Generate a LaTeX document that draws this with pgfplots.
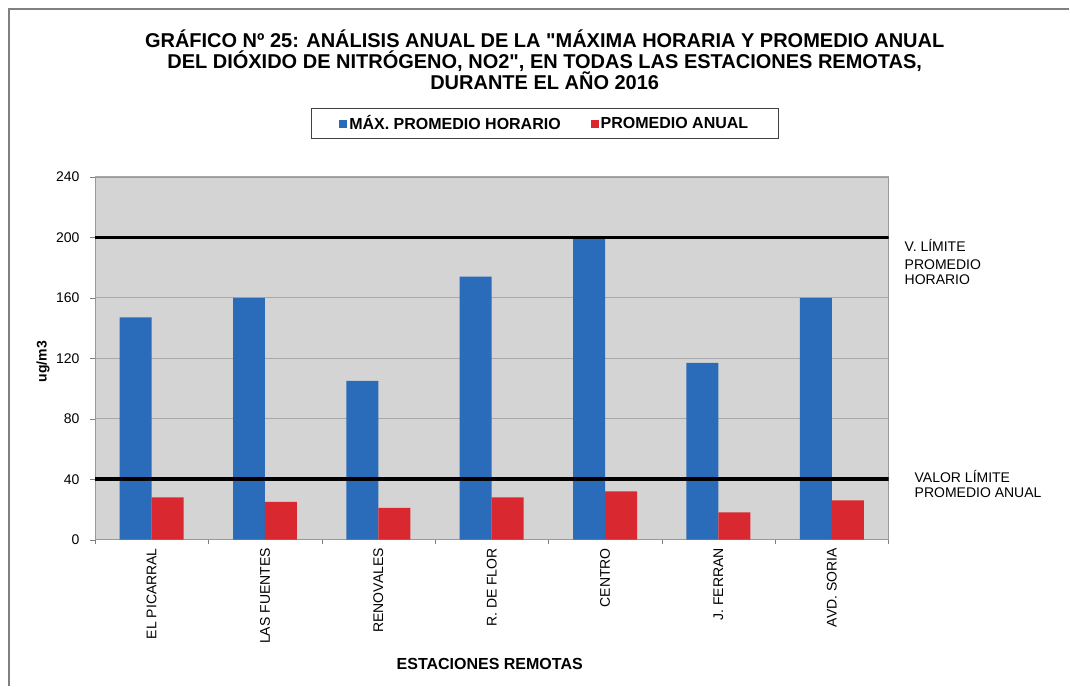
\documentclass[border=0pt]{standalone}
\usepackage{fontspec}
\setmainfont{Liberation Sans}
\newfontfamily\qfont{Liberation Sans}
\usepackage{pgfplots}
\pgfplotsset{compat=1.18}
\definecolor{barblue}{HTML}{2A6CB9}
\definecolor{barred}{HTML}{D9282F}
\definecolor{plotbg}{HTML}{D4D4D4}
\definecolor{gridc}{HTML}{A9A9A9}
\newcommand{\qq}{{\qfont\bfseries "}}
\begin{document}
\begin{tikzpicture}[x=1pt,y=1pt]
\fill[white] (0,0) rectangle (1070,686);
\draw[gray, line width=1.2pt] (9,0) -- (9,677) -- (1070,677);
\node[anchor=base, inner sep=0, font=\fontsize{20}{22}\selectfont\bfseries] at (545,638) {GRÁFICO Nº 25: ANÁLISIS ANUAL DE LA \qq MÁXIMA HORARIA Y PROMEDIO ANUAL};
\node[anchor=base, inner sep=0, font=\fontsize{20}{22}\selectfont\bfseries] at (545,617) {DEL DIÓXIDO DE NITRÓGENO, NO2\qq, EN TODAS LAS ESTACIONES REMOTAS,};
\node[anchor=base, inner sep=0, font=\fontsize{20}{22}\selectfont\bfseries] at (545,596) {DURANTE EL AÑO 2016};
\node[rotate=90, font=\fontsize{14}{14}\selectfont\bfseries] at (43,324) {ug/m3};
\node[anchor=base, inner sep=0, font=\fontsize{16}{16}\selectfont\bfseries] at (490,16) {ESTACIONES REMOTAS};
\node[anchor=base west, inner sep=0, font=\fontsize{14}{14}\selectfont] at (905,434) {V. LÍMITE};
\node[anchor=base west, inner sep=0, font=\fontsize{14}{14}\selectfont] at (905,416) {PROMEDIO};
\node[anchor=base west, inner sep=0, font=\fontsize{14}{14}\selectfont] at (905,401) {HORARIO};
\node[anchor=base west, inner sep=0, font=\fontsize{14}{14}\selectfont] at (915,203) {VALOR LÍMITE};
\node[anchor=base west, inner sep=0, font=\fontsize{14}{14}\selectfont] at (915,188) {PROMEDIO ANUAL};
\begin{axis}[
  at={(95pt,146pt)}, anchor=south west, scale only axis,
  width=794pt, height=363pt,
  ybar=0pt, bar width=32pt,
  xmin=-0.5, xmax=6.5, ymin=0, ymax=240,
  ytick={0,40,80,120,160,200,240},
  xtick={0,1,2,3,4,5,6},
  xticklabels={EL PICARRAL, LAS FUENTES, RENOVALES, R. DE FLOR, CENTRO, J. FERRAN, AVD. SORIA},
  minor xtick={-0.5,0.5,1.5,2.5,3.5,4.5,5.5,6.5},
  xtick pos=bottom, ytick pos=left,
  tick align=outside, major tick length=5pt, minor tick length=4pt,
  major x tick style={draw=none},
  minor x tick style={gray},
  major y tick style={gray},
  axis background/.style={fill=plotbg},
  axis line style={gray!80},
  ymajorgrids, grid style={gridc, line width=0.8pt},
  /pgf/number format/assume math mode=true,
  yticklabel style={font=\fontsize{14}{14}\selectfont, xshift=-7pt},
  xticklabel style={rotate=90, anchor=east, font=\fontsize{14}{14}\selectfont},
  legend style={at={(0.5668,1.147)}, anchor=center, legend columns=2,
    draw=black!75, line width=1.2pt, font=\fontsize{16}{16}\selectfont\bfseries,
    inner xsep=28pt, inner ysep=5pt,
    /tikz/every even column/.append style={column sep=28pt}},
  legend image code/.code={\fill[#1,draw=none] (0pt,-4pt) rectangle (8pt,4pt);},
]
\addplot[fill=barblue, draw=none] coordinates {(0,147) (1,160) (2,105) (3,174) (4,199) (5,117) (6,160)};
\addplot[fill=barred, draw=none] coordinates {(0,28) (1,25) (2,21) (3,28) (4,32) (5,18) (6,26)};
\legend{MÁX. PROMEDIO HORARIO, PROMEDIO ANUAL}
\addplot[sharp plot, black, line width=3.5pt, forget plot] coordinates {(-0.5,200) (6.5,200)};
\addplot[sharp plot, black, line width=3.5pt, forget plot] coordinates {(-0.5,40) (6.5,40)};
\end{axis}
\end{tikzpicture}
\end{document}
